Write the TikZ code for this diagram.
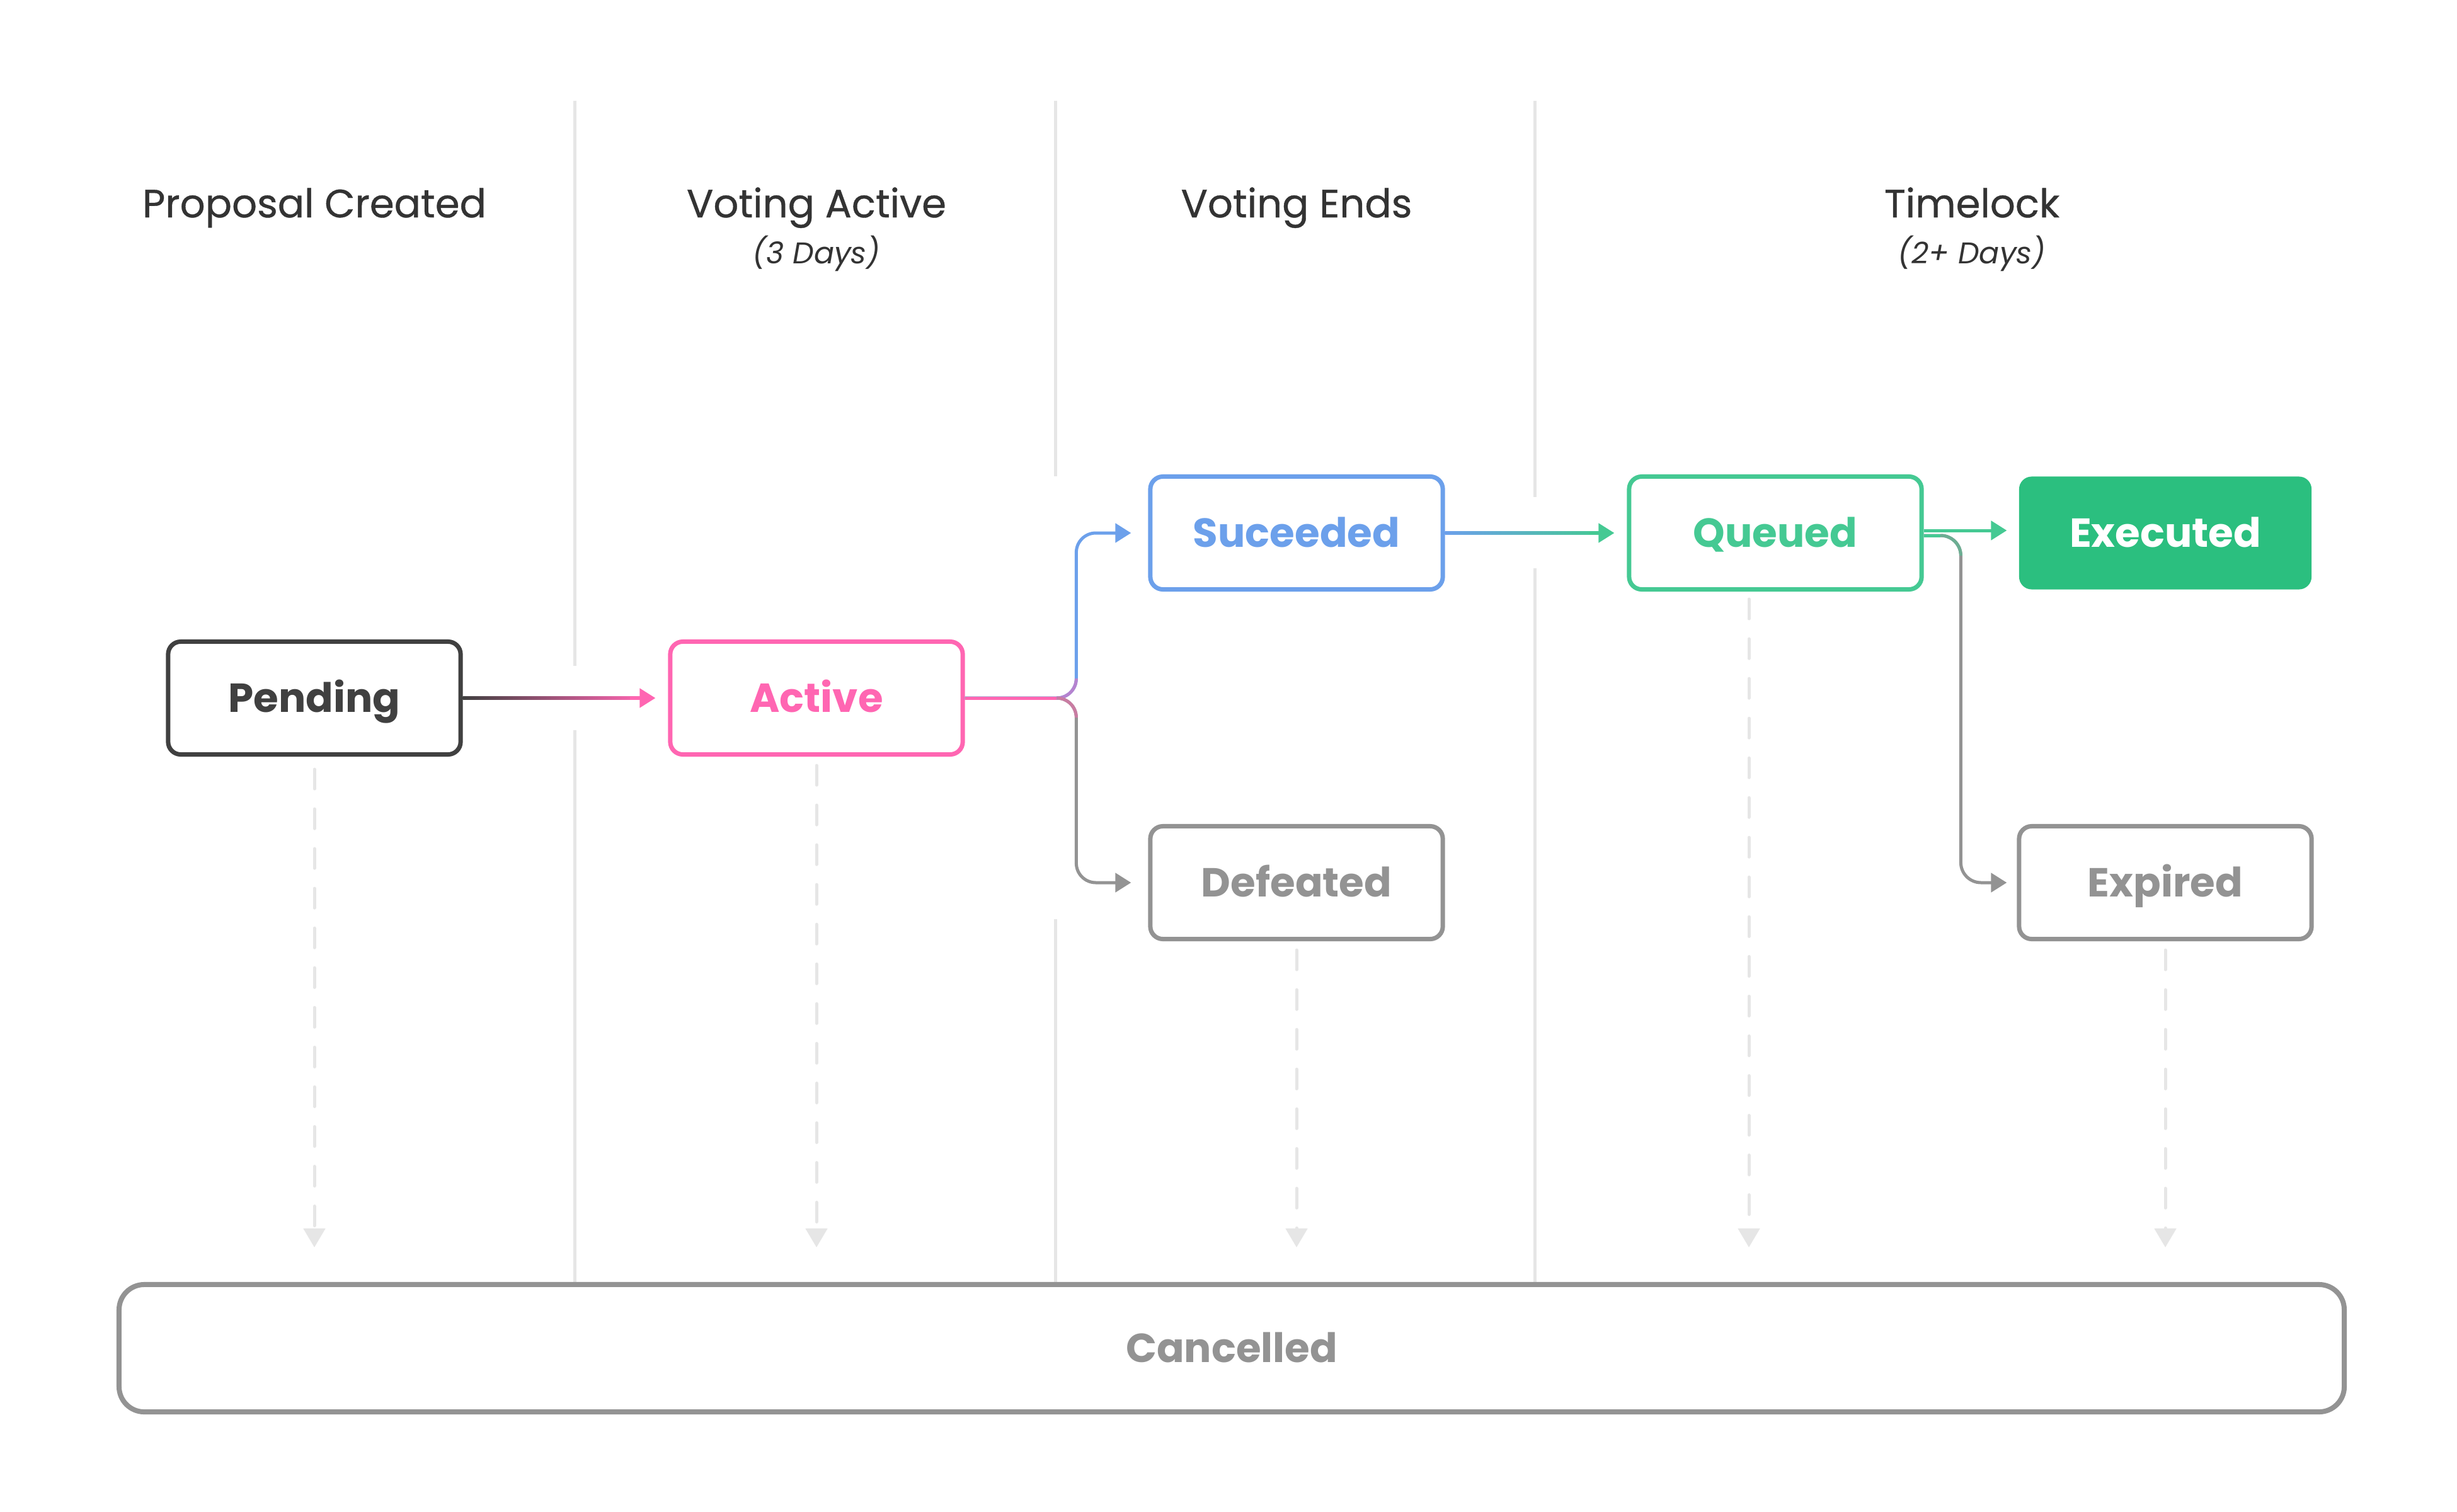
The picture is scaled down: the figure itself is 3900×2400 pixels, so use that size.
\documentclass[tikz,border=0pt]{standalone}
\usepackage{fontspec}
\setmainfont{Poppins}
\newfontfamily\hdrfont{Poppins}[FakeBold=0.6]
\usetikzlibrary{arrows.meta,calc}
\definecolor{hdr}{HTML}{333333}
\definecolor{dk}{HTML}{404040}
\definecolor{pk}{HTML}{FF66B2}
\definecolor{bl}{HTML}{6CA0EB}
\definecolor{gn}{HTML}{45C993}
\definecolor{gnf}{HTML}{2BBF7F}
\definecolor{gy}{HTML}{939393}
\definecolor{sepc}{HTML}{E6E6E6}
\begin{document}
\begin{tikzpicture}[x=0.01cm,y=-0.01cm,
  statebox/.style={draw, line width=0.07cm, rounded corners=0.2cm, minimum width=4.64cm, minimum height=1.79cm, inner sep=0pt, font=\fontsize{18.3}{20}\selectfont\bfseries, text height=12.8pt, text depth=0pt, fill=white},
  hdrtext/.style={text=hdr, font=\hdrfont\fontsize{17.8}{20}\selectfont, anchor=base, inner sep=0pt},
  subtext/.style={text=hdr, font=\fontsize{13.5}{16}\selectfont\itshape, anchor=base, inner sep=0pt},
  sepline/.style={draw=sepc, line width=0.05cm},
  cancelarrow/.style={draw=sepc, line width=0.05cm, line cap=round, dash pattern=on 0.31cm off 0.32cm, -{Triangle[length=0.3cm,width=0.34cm]}},
  conn/.style={line width=0.05cm, -{Triangle[length=0.25cm,width=0.3cm]}},
  plainconn/.style={line width=0.05cm},
]
\fill[white] (0,0) rectangle (3900,2400);
\useasboundingbox (0,0) rectangle (3900,2400);

% separators
\draw[sepline] (912,160) -- (912,1057);
\draw[sepline] (912,1159) -- (912,2037);
\draw[sepline] (1675,160) -- (1675,756);
\draw[sepline] (1675,1459) -- (1675,2037);
\draw[sepline] (2436,160) -- (2436,789);
\draw[sepline] (2436,902) -- (2436,2037);

% headers
\node[hdrtext] (h1) at (499,345) {Proposal Created};
\node[hdrtext] (h2) at (1296,345) {Voting Active};
\node[subtext] (h2s) at (1296,418) {(3 Days)};
\node[hdrtext] (h3) at (2058,345) {Voting Ends};
\node[hdrtext] (h4) at (3130,345) {Timelock};
\node[subtext] (h4s) at (3130,418) {(2+ Days)};

% state nodes
\node[statebox, draw=dk, text=dk] (pend) at (499,1108) {Pending};
\node[statebox, draw=pk, text=pk] (act) at (1296,1108) {Active};
\node[statebox, draw=bl, text=bl] (suc) at (2058,846) {Suceeded};
\node[statebox, draw=gy, text=gy] (def) at (2058,1401) {Defeated};
\node[statebox, draw=gn, text=gn] (que) at (2818,846) {Queued};
\node[statebox, draw=none, fill=gnf, text=white] (exe) at (3437,846) {Executed};
\node[statebox, draw=gy, text=gy] (exp) at (3437,1401) {Expired};
\node[statebox, draw=gy, text=gy, line width=0.08cm, rounded corners=0.4cm, minimum width=35.3cm, minimum height=2.02cm] (can) at (1955,2140) {Cancelled};

% Pending -> Active (gradient)
\shade[left color=dk, right color=pk] ($(pend.east)+(0,-2.5)$) rectangle ($(act.west)+(-40,2.5)$);
\draw[conn, pk, shorten >=0.2cm] ($(act.west)+(-60,0)$) -- (act.west);

% Active -> Suceeded / Defeated
\path (suc.west) ++(-114,0) coordinate (sucin);
\path (def.west) ++(-114,0) coordinate (defin);
\coordinate (asplit) at (act.east -| sucin);
\draw[conn, gy, rounded corners=0.31cm, shorten >=0.27cm] (act.east) -| (defin) -- (def.west);
\draw[conn, bl, rounded corners=0.31cm, shorten >=0.27cm] (act.east) -| (sucin) -- (suc.west);
\draw[plainconn, pk] (act.east) -- ($(asplit)+(-31,0)$);
\draw[plainconn, pk!50!bl, rounded corners=0.31cm] ($(asplit)+(-31,0)$) -- (asplit) -- ($(asplit)+(0,-31)$);
\draw[plainconn, pk!50!gy, rounded corners=0.31cm] ($(asplit)+(-31,0)$) -- (asplit) -- ($(asplit)+(0,31)$);

% Suceeded -> Queued (gradient)
\shade[left color=bl, right color=gn] ($(suc.east)+(0,-2.5)$) rectangle ($(que.west)+(-40,2.5)$);
\draw[conn, gn, shorten >=0.2cm] ($(que.west)+(-60,0)$) -- (que.west);

% Queued -> Expired
\path (exp.west) ++(-89,0) coordinate (expin);
\coordinate (qstart) at ($(que.east)+(0,4)$);
\coordinate (qsplit) at (qstart -| expin);
\draw[conn, gy, rounded corners=0.32cm, shorten >=0.16cm] (qstart) -| (expin) -- (exp.west);
\draw[plainconn, gn] (qstart) -- ($(qsplit)+(-32,0)$);
\draw[plainconn, gn!50!gy, rounded corners=0.32cm] ($(qsplit)+(-32,0)$) -- (qsplit) -- ($(qsplit)+(0,32)$);

% Queued -> Executed
\draw[conn, gn, shorten >=0.16cm] ($(que.east)+(0,-4)$) -- ($(exe.west)+(0,-4)$);

% dashed arrows to Cancelled
\coordinate (tipy) at ($(can.north)+(0,-55)$);
\path (pend.south) ++(0,20) coordinate (d1);
\path (act.south) ++(0,14) coordinate (d2);
\path (def.south) ++(0,14) coordinate (d3);
\path (que.south) ++(-42,12) coordinate (d4);
\path (exp.south) ++(0,14) coordinate (d5);
\draw[cancelarrow] (d1) -- (d1 |- tipy);
\draw[cancelarrow] (d2) -- (d2 |- tipy);
\draw[cancelarrow] (d3) -- (d3 |- tipy);
\draw[cancelarrow] (d4) -- (d4 |- tipy);
\draw[cancelarrow] (d5) -- (d5 |- tipy);
\end{tikzpicture}
\end{document}
